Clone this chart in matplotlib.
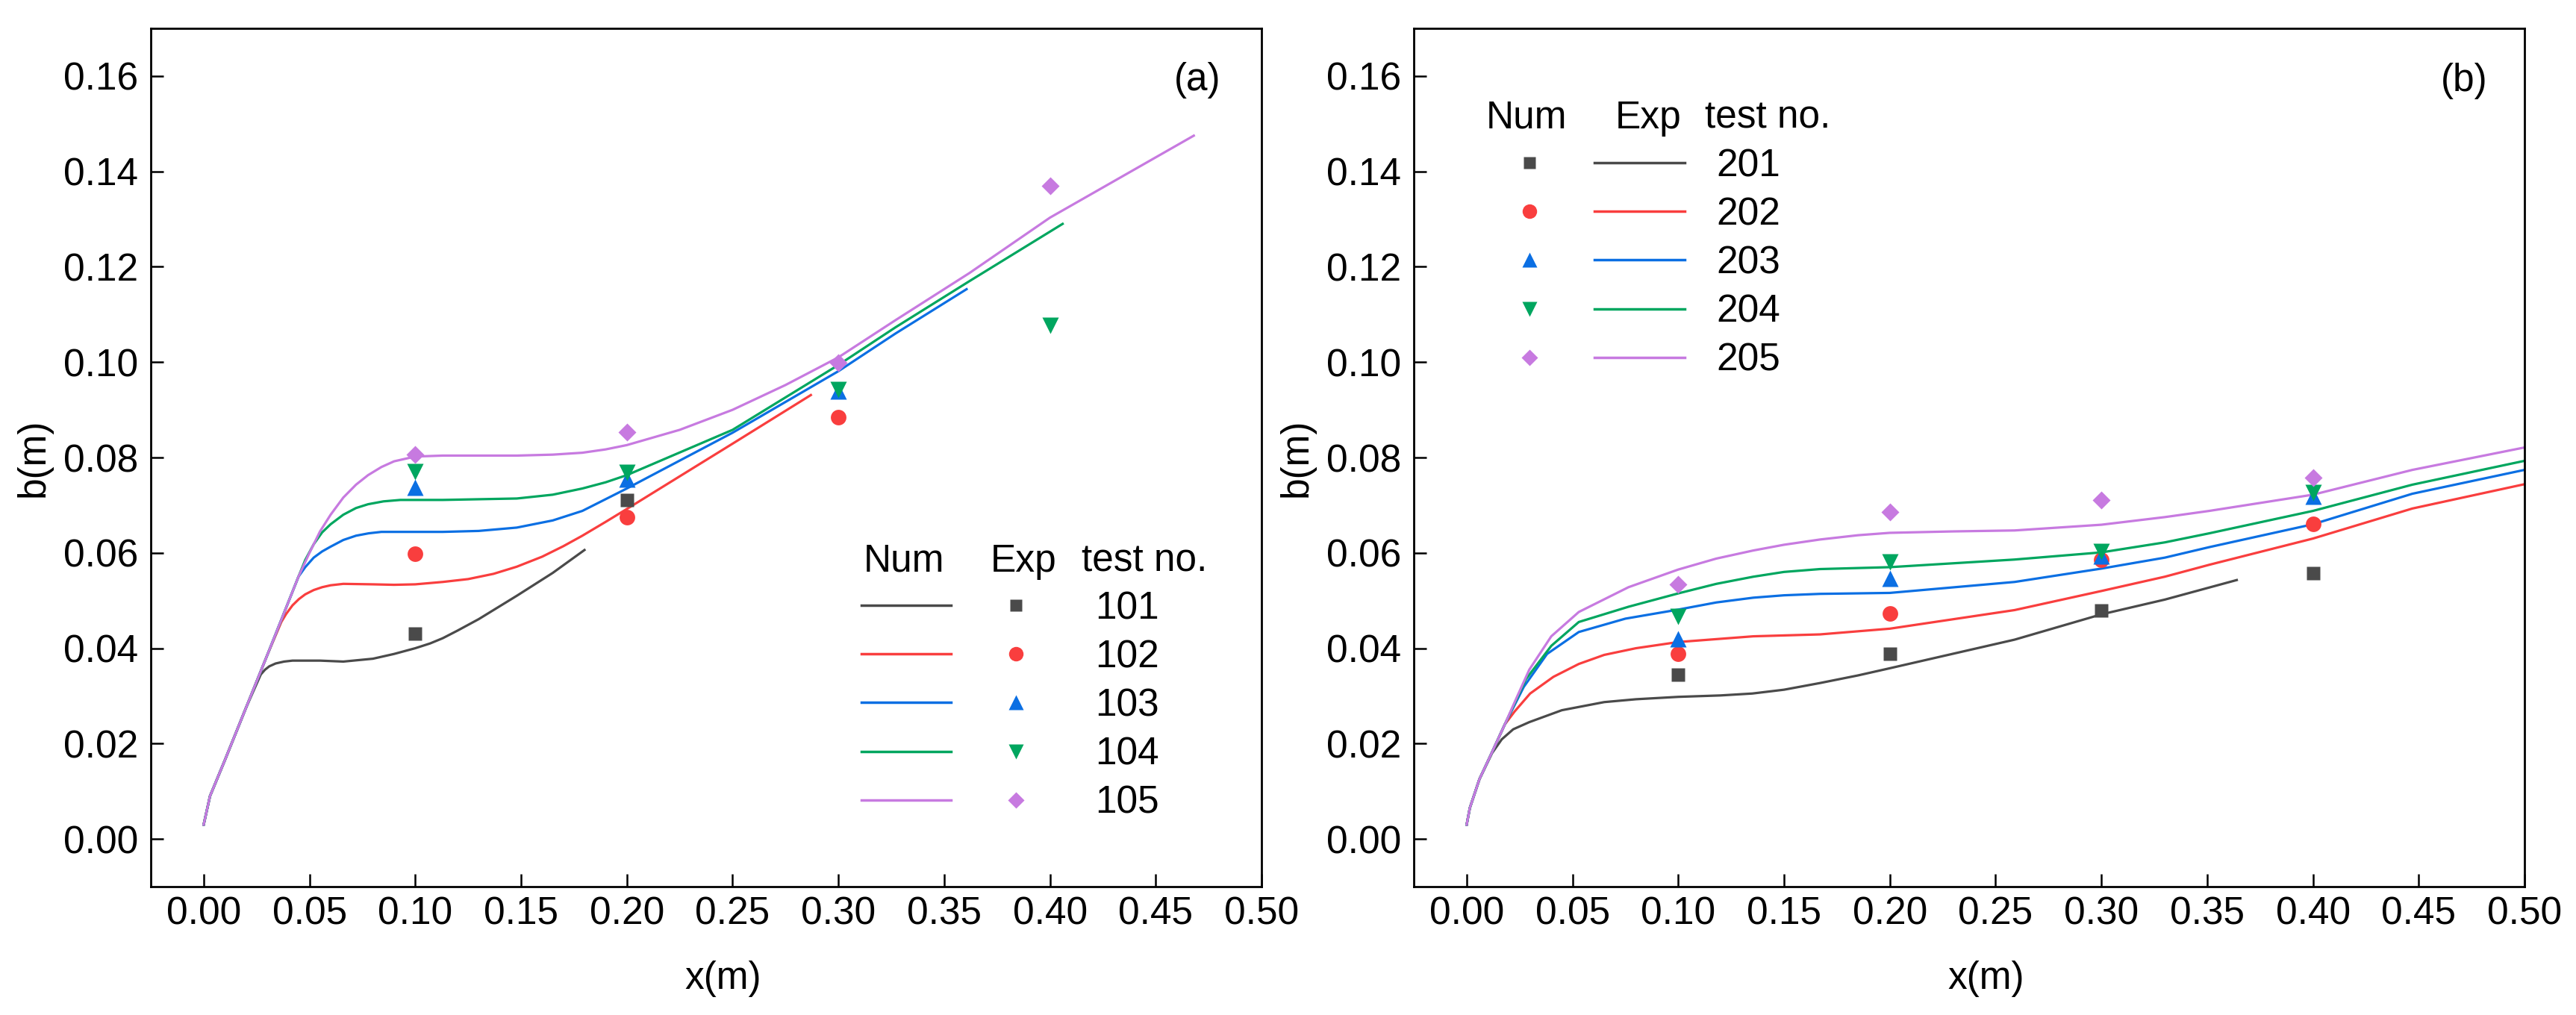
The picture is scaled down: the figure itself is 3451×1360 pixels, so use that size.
import matplotlib
matplotlib.use("Agg")
import matplotlib.pyplot as plt

plt.rcParams['font.family'] = ['Liberation Sans', 'DejaVu Sans']

colors = ['#4a4a4a', '#f93e3e', '#0b6fe3', '#00a65f', '#c77ae0']
markers = ['s', 'o', '^', 'v', 'D']
msizes = [13, 15, 16, 16, 12]

# ---- panel (a): numerical curves ----
num_101_x = [0, 0.003, 0.01, 0.02, 0.027, 0.029, 0.031, 0.034, 0.038, 0.042, 0.055, 0.066, 0.08, 0.09, 0.1, 0.107, 0.113, 0.12, 0.13, 0.148, 0.165, 0.18]
num_101_y = [0.003, 0.009, 0.0165, 0.0275, 0.0345, 0.0355, 0.0362, 0.0368, 0.0372, 0.0374, 0.0374, 0.0372, 0.0378, 0.0388, 0.0400, 0.0410, 0.0421, 0.0437, 0.0461, 0.0510, 0.0558, 0.0606]
num_102_x = [0, 0.003, 0.01, 0.02, 0.03, 0.0367, 0.039, 0.042, 0.045, 0.048, 0.052, 0.056, 0.06, 0.066, 0.08, 0.09, 0.1, 0.113, 0.125, 0.137, 0.148, 0.16, 0.17, 0.179, 0.19, 0.2, 0.25, 0.287]
num_102_y = [0.003, 0.009, 0.0165, 0.0275, 0.0385, 0.0455, 0.0472, 0.0490, 0.0503, 0.0513, 0.0522, 0.0528, 0.0532, 0.0535, 0.0534, 0.0533, 0.0534, 0.0539, 0.0545, 0.0556, 0.0571, 0.0592, 0.0614, 0.0636, 0.0665, 0.0692, 0.0829, 0.0931]
num_103_x = [0, 0.003, 0.01, 0.02, 0.03, 0.0448, 0.048, 0.052, 0.056, 0.06, 0.066, 0.072, 0.078, 0.084, 0.1, 0.113, 0.13, 0.148, 0.165, 0.179, 0.2, 0.25, 0.3, 0.327, 0.3606]
num_103_y = [0.003, 0.009, 0.0165, 0.0275, 0.0385, 0.055, 0.0570, 0.0590, 0.0603, 0.0613, 0.0627, 0.0636, 0.0641, 0.0644, 0.0644, 0.0644, 0.0646, 0.0653, 0.0668, 0.0688, 0.0735, 0.0852, 0.0981, 0.106, 0.1153]
num_104_x = [0, 0.003, 0.01, 0.02, 0.03, 0.0448, 0.048, 0.052, 0.056, 0.06, 0.066, 0.072, 0.0777, 0.085, 0.093, 0.113, 0.148, 0.165, 0.179, 0.19, 0.2, 0.25, 0.3, 0.327, 0.362, 0.406]
num_104_y = [0.003, 0.009, 0.0165, 0.0275, 0.0385, 0.055, 0.0585, 0.0618, 0.0643, 0.0660, 0.0680, 0.0694, 0.0702, 0.0708, 0.0711, 0.0711, 0.0714, 0.0722, 0.0735, 0.0748, 0.0763, 0.0858, 0.0994, 0.1073, 0.117, 0.129]
num_105_x = [0, 0.003, 0.01, 0.02, 0.03, 0.0448, 0.05, 0.055, 0.06, 0.066, 0.072, 0.0777, 0.084, 0.09, 0.1, 0.113, 0.148, 0.165, 0.179, 0.19, 0.2, 0.225, 0.25, 0.275, 0.3, 0.327, 0.362, 0.4, 0.468]
num_105_y = [0.003, 0.009, 0.0165, 0.0275, 0.0385, 0.055, 0.0600, 0.0645, 0.0680, 0.0716, 0.0743, 0.0763, 0.0780, 0.0792, 0.0802, 0.0804, 0.0804, 0.0806, 0.0810, 0.0817, 0.0826, 0.0858, 0.0900, 0.0952, 0.101, 0.1088, 0.1187, 0.1303, 0.1475]

# ---- panel (a): experiments ----
exp_101_x = [0.1, 0.2]
exp_101_y = [0.0430, 0.0711]
exp_102_x = [0.1, 0.2, 0.3]
exp_102_y = [0.0598, 0.0675, 0.0884]
exp_103_x = [0.1, 0.2, 0.3]
exp_103_y = [0.0738, 0.0755, 0.0939]
exp_104_x = [0.1, 0.2, 0.3, 0.4]
exp_104_y = [0.0771, 0.0769, 0.0942, 0.1077]
exp_105_x = [0.1, 0.2, 0.3, 0.4]
exp_105_y = [0.0806, 0.0853, 0.0999, 0.1370]

# ---- panel (b): numerical curves ----
num_201_x = [0, 0.0015, 0.006, 0.012, 0.0166, 0.022, 0.0296, 0.045, 0.065, 0.08, 0.1, 0.12, 0.135, 0.15, 0.167, 0.185, 0.2, 0.259, 0.3, 0.33, 0.364]
num_201_y = [0.003, 0.0065, 0.0125, 0.018, 0.0209, 0.023, 0.0245, 0.027, 0.0287, 0.0293, 0.0298, 0.0301, 0.0305, 0.0313, 0.0327, 0.0343, 0.0358, 0.0418, 0.0471, 0.0502, 0.0543]
num_202_x = [0, 0.0015, 0.006, 0.012, 0.018, 0.0226, 0.03, 0.041, 0.053, 0.065, 0.08, 0.1, 0.1355, 0.167, 0.2, 0.259, 0.3, 0.33, 0.351, 0.4, 0.447, 0.5]
num_202_y = [0.003, 0.0065, 0.0125, 0.0182, 0.024, 0.0267, 0.0305, 0.034, 0.0367, 0.0386, 0.0400, 0.0413, 0.0425, 0.0429, 0.0441, 0.048, 0.052, 0.055, 0.0575, 0.063, 0.0693, 0.0744]
num_203_x = [0, 0.0015, 0.006, 0.012, 0.018, 0.027, 0.038, 0.053, 0.075, 0.1, 0.118, 0.1355, 0.15, 0.167, 0.2, 0.259, 0.3, 0.33, 0.351, 0.4, 0.447, 0.5]
num_203_y = [0.003, 0.0065, 0.0125, 0.0182, 0.024, 0.0319, 0.0388, 0.0434, 0.0462, 0.0481, 0.0496, 0.0506, 0.0511, 0.0514, 0.0516, 0.0539, 0.0567, 0.059, 0.0612, 0.066, 0.0724, 0.0774]
num_204_x = [0, 0.0015, 0.006, 0.012, 0.018, 0.028, 0.04, 0.053, 0.0765, 0.1, 0.118, 0.1355, 0.15, 0.167, 0.2, 0.259, 0.3, 0.33, 0.351, 0.4, 0.447, 0.5]
num_204_y = [0.003, 0.0065, 0.0125, 0.0182, 0.024, 0.0335, 0.0405, 0.0455, 0.0487, 0.0515, 0.0535, 0.0550, 0.0560, 0.0566, 0.0570, 0.0586, 0.0601, 0.0622, 0.0641, 0.0688, 0.0743, 0.0793]
num_205_x = [0, 0.0015, 0.006, 0.012, 0.018, 0.024, 0.0296, 0.04, 0.053, 0.0765, 0.1, 0.118, 0.1355, 0.15, 0.167, 0.185, 0.2, 0.23, 0.259, 0.3, 0.33, 0.351, 0.4, 0.447, 0.5]
num_205_y = [0.003, 0.0065, 0.0125, 0.0182, 0.024, 0.0300, 0.0355, 0.0425, 0.0476, 0.0528, 0.0565, 0.0588, 0.0605, 0.0617, 0.0628, 0.0637, 0.0642, 0.0645, 0.0647, 0.0659, 0.0675, 0.0688, 0.0722, 0.0774, 0.0821]

# ---- panel (b): experiments ----
exp_b_x = [0.1, 0.2, 0.3, 0.4]
exp_201_y = [0.0345, 0.0389, 0.0479, 0.0557]
exp_202_y = [0.0388, 0.0473, 0.0586, 0.0660]
exp_203_y = [0.0419, 0.0547, 0.0594, 0.0719]
exp_204_y = [0.0466, 0.0581, 0.0603, 0.0727]
exp_205_y = [0.0534, 0.0686, 0.0711, 0.0757]

labels_a = ['101', '102', '103', '104', '105']
labels_b = ['201', '202', '203', '204', '205']

xticks = [0.0, 0.05, 0.10, 0.15, 0.20, 0.25, 0.30, 0.35, 0.40, 0.45, 0.50]
yticks = [0.00, 0.02, 0.04, 0.06, 0.08, 0.10, 0.12, 0.14, 0.16]

FS = 37
LW = 2.3
W, H = 3451, 1360


def setup_axes(ax):
    ax.set_xlim(-0.025, 0.5)
    ax.set_ylim(-0.01, 0.17)
    ax.set_xticks(xticks)
    ax.set_yticks(yticks)
    ax.set_xticklabels(['%.2f' % v for v in xticks])
    ax.set_yticklabels(['%.2f' % v for v in yticks])
    ax.tick_params(direction='in', length=12, width=1.8, labelsize=FS,
                   top=False, right=False)
    ax.tick_params(axis='x', pad=9)
    ax.tick_params(axis='y', pad=12)
    for s in ax.spines.values():
        s.set_linewidth(2.0)
    ax.set_xlabel('x(m)', fontsize=FS)
    ax.set_ylabel('b(m)', fontsize=FS)
    ax.xaxis.set_label_coords(0.515, -0.086)
    ax.yaxis.set_label_coords(-0.089, 0.5)


fig = plt.figure(figsize=(W / 100, H / 100), dpi=100)
ax1 = fig.add_axes([202 / W, 1 - 1188 / H, 1488 / W, 1150 / H])
ax2 = fig.add_axes([1894 / W, 1 - 1188 / H, 1488 / W, 1150 / H])

# panel (a)
num_a = [(num_101_x, num_101_y), (num_102_x, num_102_y), (num_103_x, num_103_y),
         (num_104_x, num_104_y), (num_105_x, num_105_y)]
exp_a = [(exp_101_x, exp_101_y), (exp_102_x, exp_102_y), (exp_103_x, exp_103_y),
         (exp_104_x, exp_104_y), (exp_105_x, exp_105_y)]
for i, (nx, ny) in enumerate(num_a):
    ax1.plot(nx, ny, color=colors[i], lw=LW, zorder=2, solid_joinstyle='round')
for i, (ex, ey) in enumerate(exp_a):
    ax1.plot(ex, ey, ls='none', marker=markers[i], ms=msizes[i],
             color=colors[i], mec='none', zorder=3)

# panel (b)
num_b = [(num_201_x, num_201_y), (num_202_x, num_202_y), (num_203_x, num_203_y),
         (num_204_x, num_204_y), (num_205_x, num_205_y)]
exp_b = [exp_201_y, exp_202_y, exp_203_y, exp_204_y, exp_205_y]
for i, (nx, ny) in enumerate(num_b):
    ax2.plot(nx, ny, color=colors[i], lw=LW, zorder=2, solid_joinstyle='round')
for i, ey in enumerate(exp_b):
    ax2.plot(exp_b_x, ey, ls='none', marker=markers[i], ms=msizes[i],
             color=colors[i], mec='none', zorder=3)

for ax in (ax1, ax2):
    setup_axes(ax)

ax1.text(0.942, 0.940, '(a)', transform=ax1.transAxes, fontsize=FS,
         ha='center', va='center')
ax2.text(0.946, 0.939, '(b)', transform=ax2.transAxes, fontsize=FS,
         ha='center', va='center')

# hand-built legend, (a): lines under "Num", markers under "Exp"
tr = ax1.transAxes
ax1.text(0.678, 0.367, 'Num', transform=tr, fontsize=FS, ha='center', va='baseline')
ax1.text(0.786, 0.367, 'Exp', transform=tr, fontsize=FS, ha='center', va='baseline')
ax1.text(0.8945, 0.367, 'test no.', transform=tr, fontsize=FS, ha='center', va='baseline')
for i in range(5):
    yc = 0.3278 - i * 0.0567
    ax1.plot([0.640, 0.7204], [yc, yc], color=colors[i], lw=2.5, transform=tr)
    ax1.plot([0.779], [yc], ls='none', marker=markers[i], ms=msizes[i] - 1,
             color=colors[i], mec='none', transform=tr)
    ax1.text(0.879, yc - 0.0157, labels_a[i], transform=tr, fontsize=FS,
             ha='center', va='baseline')

# hand-built legend, (b): markers under "Num", lines under "Exp"
tr = ax2.transAxes
ax2.text(0.1015, 0.8835, 'Num', transform=tr, fontsize=FS, ha='center', va='baseline')
ax2.text(0.211, 0.8835, 'Exp', transform=tr, fontsize=FS, ha='center', va='baseline')
ax2.text(0.3185, 0.8835, 'test no.', transform=tr, fontsize=FS, ha='center', va='baseline')
for i in range(5):
    yc = 0.8435 - i * 0.0567
    ax2.plot([0.1042], [yc], ls='none', marker=markers[i], ms=msizes[i] - 1,
             color=colors[i], mec='none', transform=tr)
    ax2.plot([0.1626, 0.244], [yc, yc], color=colors[i], lw=2.5, transform=tr)
    ax2.text(0.301, yc - 0.0157, labels_b[i], transform=tr, fontsize=FS,
             ha='center', va='baseline')

fig.savefig('out.png', dpi=100, facecolor='white')
